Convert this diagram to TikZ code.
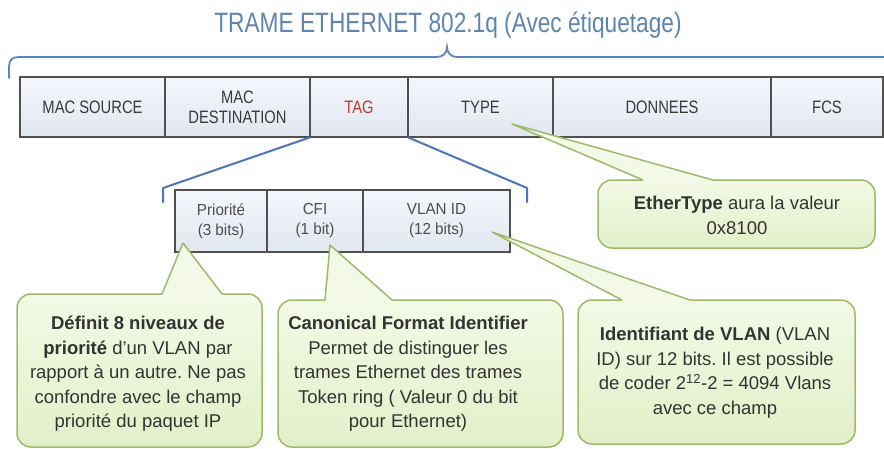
\documentclass[tikz,border=0pt]{standalone}
\usepackage{fontspec}
\setmainfont{Liberation Sans}
\newfontfamily\narrowfont[FakeStretch=0.82]{Liberation Sans}
\newfontfamily\titlefont[FakeStretch=0.81]{Liberation Sans}
\newfontfamily\subfont[FakeStretch=0.95]{Liberation Sans}
\usetikzlibrary{calc,backgrounds}
\definecolor{titleblue}{HTML}{5F84AD}
\definecolor{braceblue}{HTML}{5A86BD}
\definecolor{tagblue}{HTML}{4A76BB}
\definecolor{facetop}{HTML}{F5F7FC}
\definecolor{facebot}{HTML}{E1E6EF}
\definecolor{bevelcol}{HTML}{ABBFDC}
\definecolor{sidecol}{HTML}{A3B8D8}
\definecolor{boxline}{HTML}{505050}
\definecolor{txtgray}{HTML}{3A3A3A}
\definecolor{tagred}{HTML}{C0392B}
\definecolor{calltop}{HTML}{F3F9E6}
\definecolor{callbot}{HTML}{E3EFC8}
\definecolor{callline}{HTML}{9CBB6A}
\definecolor{calltxt}{HTML}{333333}
\frenchspacing
\begin{document}
\begin{tikzpicture}[x=1pt,y=-1pt,
  field/.style={draw=boxline, line width=1.2pt, top color=facetop, bottom color=facebot,
    inner sep=0pt, align=center, text=txtgray,
    font=\narrowfont\fontsize{18}{20}\selectfont, minimum height=60pt},
  subfield/.style={field, font=\subfont\fontsize{16}{20}\selectfont, minimum height=62pt, text=txtgray!90},
  bevelface/.style={fill=bevelcol, draw=boxline!80, line width=0.8pt},
  sideface/.style={fill=sidecol, draw=boxline, line width=1pt},
  brace/.style={draw=braceblue, line width=1.8pt, line cap=round},
  tagline/.style={draw=tagblue, line width=2pt, line cap=round, line join=round},
  callout/.style={draw=callline, line width=1.5pt, top color=calltop, bottom color=callbot,
    rounded corners=14pt, inner sep=0pt},
  pointerfill/.style={fill=calltop},
  pointerline/.style={draw=callline, line width=1.5pt, line join=round},
  calltext/.style={align=center, text=calltxt, inner sep=0pt,
    font=\fontsize{18.5}{24.5}\selectfont}
]
\useasboundingbox (0,0) rectangle (884,448);
\fill[white] (0,0) rectangle (884,448);

% title
\node[anchor=base, text=titleblue, inner sep=0pt, font=\titlefont\fontsize{28}{30}\selectfont]
  (title) at (448,32) {TRAME ETHERNET 802.1q (Avec étiquetage)};

% brace
\draw[brace] (9,78) -- (9,67) .. controls (9,60) and (12,57) .. (19,57) -- (437,57)
  .. controls (443,57) and (447,53) .. (447,47)
  .. controls (447,53) and (451,57) .. (457,57) -- (886,57);

% top row fields
\node[field, minimum width=145pt] (ms) at (92.5,107) {MAC SOURCE};
\node[field, minimum width=145pt] (md) at (237.5,107) {MAC\\DESTINATION};
\node[field, minimum width=98pt, text=tagred] (tg) at (359,107) {TAG};
\node[field, minimum width=145pt] (ty) at (480.5,107) {TYPE};
\node[field, minimum width=218pt] (dn) at (662,107) {DONNEES};
\node[field, minimum width=112pt] (fc) at (827,107) {FCS};

% tag detail fields
\node[subfield, minimum width=92pt] (pr) at (221,221) {Priorité\\(3 bits)};
\node[subfield, minimum width=96pt] (cf) at (315,221) {CFI\\(1 bit)};
\node[subfield, minimum width=147pt] (vd) at (436.5,221) {VLAN ID\\(12 bits)};

\begin{scope}[on background layer]
  \foreach \n in {ms,md,tg,ty,dn,fc}
    \path[bevelface] (\n.south west) -- (\n.south east) -- ++(8,15)
      -- ($(\n.south west)+(8,15)$) -- cycle;
  \foreach \n in {pr,cf,vd}
    \path[bevelface] (\n.south west) -- (\n.south east) -- ++(10,13)
      -- ($(\n.south west)+(10,13)$) -- cycle;
  \path[sideface] (vd.north east) -- ++(10,13) -- ($(vd.south east)+(10,13)$)
    -- (vd.south east) -- cycle;
\end{scope}

% tag expansion lines
\coordinate (tl1) at (163,188);
\coordinate (tl2) at (163,202);
\coordinate (tr1) at (527,188);
\coordinate (tr2) at (527,202);
\draw[tagline] (tg.south west) -- (tl1) -- (tl2);
\draw[tagline] (tg.south east) -- (tr1) -- (tr2);

% callout: EtherType
\node[callout, minimum width=277pt, minimum height=68pt] (cEt) at (736.5,214) {};
\coordinate (tEt) at (512,124);
\coordinate (eL) at (643,180);
\coordinate (eR) at (713,180);
\fill[pointerfill] (eL) -- (tEt) -- (eR) -- ++(0,3) -- ($(eL)+(0,3)$) -- cycle;
\draw[pointerline] (eL) -- (tEt) -- (eR);
\node[calltext] (xEt) at (737,215.5) {\textbf{EtherType} aura la valeur\\0x8100};

% callout: Priorite
\node[callout, minimum width=245pt, minimum height=153pt] (cPr) at (139.5,370.5) {};
\coordinate (tPr) at (183,243);
\coordinate (pL) at (162,294);
\coordinate (pR) at (222,294);
\fill[pointerfill] (pL) -- (tPr) -- (pR) -- ++(0,3) -- ($(pL)+(0,3)$) -- cycle;
\draw[pointerline] (pL) -- (tPr) -- (pR);
\node[calltext] (xPr) at (138,374) {\textbf{Définit 8 niveaux de}\\\textbf{priorité} d'un VLAN par\\rapport à un autre. Ne pas\\confondre avec le champ\\priorité du paquet IP};

% callout: CFI
\node[callout, minimum width=285pt, minimum height=147pt] (cCf) at (420.5,373.5) {};
\coordinate (tCf) at (330,245);
\coordinate (cL) at (325,300);
\coordinate (cR) at (392,300);
\fill[pointerfill] (cL) -- (tCf) -- (cR) -- ++(0,3) -- ($(cL)+(0,3)$) -- cycle;
\draw[pointerline] (cL) -- (tCf) -- (cR);
\node[calltext] (xCf) at (408,374) {\textbf{Canonical Format Identifier}\\Permet de distinguer les\\trames Ethernet des trames\\Token ring ( Valeur 0 du bit\\pour Ethernet)};

% callout: VLAN ID
\node[callout, minimum width=277pt, minimum height=144pt] (cVd) at (716.5,372) {};
\coordinate (tVd) at (492,232);
\coordinate (vL) at (622,300);
\coordinate (vR) at (690,300);
\fill[pointerfill] (vL) -- (tVd) -- (vR) -- ++(0,3) -- ($(vL)+(0,3)$) -- cycle;
\draw[pointerline] (vL) -- (tVd) -- (vR);
\node[calltext] (xVd) at (715,372.5) {\textbf{Identifiant de VLAN} (VLAN\\ID) sur 12 bits. Il est possible\\de coder 2\textsuperscript{12}-2 = 4094 Vlans\\avec ce champ};
\end{tikzpicture}
\end{document}
